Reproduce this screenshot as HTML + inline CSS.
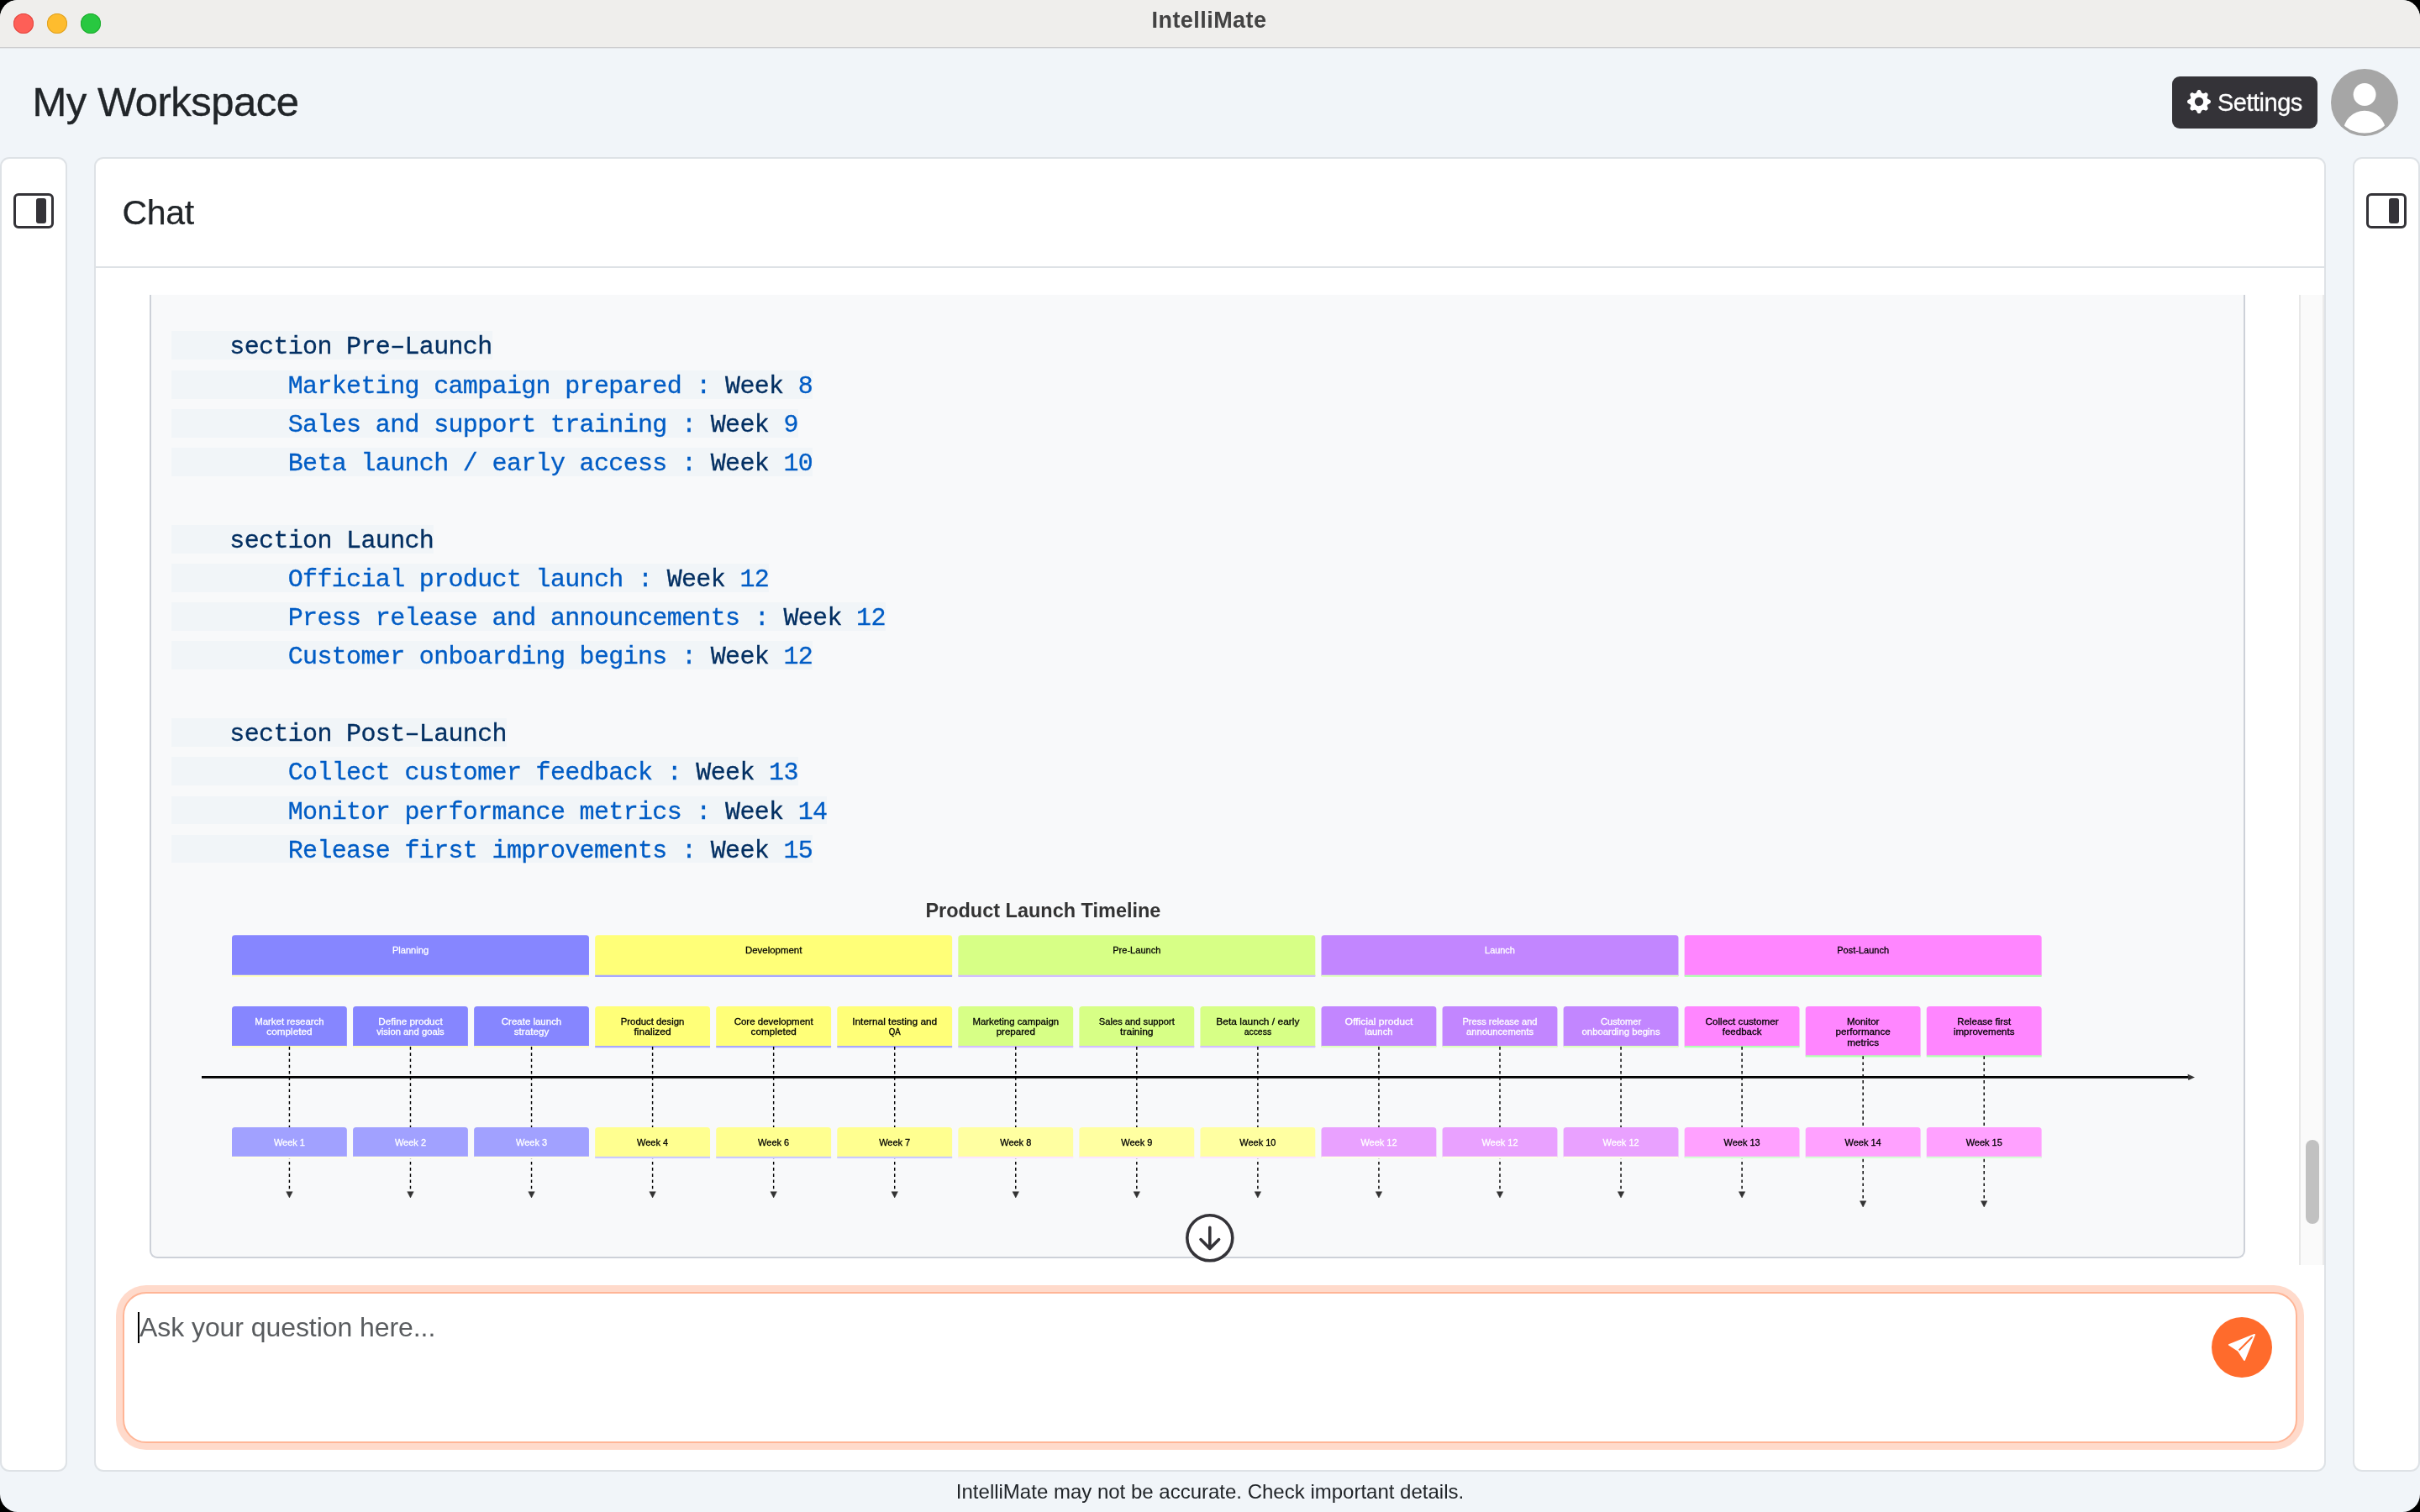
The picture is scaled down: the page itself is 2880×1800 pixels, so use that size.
<!DOCTYPE html>
<html lang="en">
<head>
<meta charset="utf-8">
<title>IntelliMate</title>
<style>
*{box-sizing:border-box;margin:0;padding:0}
html,body{width:2880px;height:1800px;background:#000;overflow:hidden}
body{font-family:"Liberation Sans",sans-serif;color:#212529;position:relative}
.win{position:absolute;left:0;top:0;width:2880px;height:1800px;border-radius:21px;overflow:hidden;background:#f1f5f9;will-change:transform}
.abs{position:absolute}
.titlebar{position:absolute;left:0;top:0;width:2880px;height:58px;background:#efeeec;border-bottom:1px solid #e4e6e9;box-shadow:inset 0 -1px 0 #cdcdcf}
.tl{position:absolute;top:16px;width:24px;height:24px;border-radius:50%}
.wtitle{position:absolute;left:0;top:8px;width:2878px;text-align:center;font-weight:bold;font-size:27px;line-height:32px;color:#434343;letter-spacing:0.45px}
.h1{position:absolute;left:38.5px;top:93px;font-size:49px;line-height:56px;color:#212529;white-space:nowrap;letter-spacing:-0.5px;-webkit-text-stroke:0.35px}
.btn{position:absolute;left:2585px;top:91px;width:173px;height:62px;border-radius:9px;background:#343338;color:#fff;font-size:28px;line-height:42px;white-space:nowrap}
.btn svg{position:absolute;left:18px;top:16px}
.btn span{position:absolute;left:54px;top:9.5px;font-size:29px;letter-spacing:-0.5px;-webkit-text-stroke:0.3px}
.panel{position:absolute;top:187px;height:1565px;background:#fff;border:2px solid #dee2e6;border-radius:11px}
.chat-h{position:absolute;left:114px;top:189px;width:2652px;height:130px;border-bottom:2px solid #dee2e6}
.chat-t{position:absolute;left:145.5px;top:227.5px;font-size:41px;line-height:50px;color:#212529;letter-spacing:-0.3px;-webkit-text-stroke:0.25px}
.codebox{position:absolute;left:178px;top:351px;width:2494px;height:1147px;background:#f8f9fa;border:2px solid #cdd1d8;border-top:none;border-radius:0 0 9px 9px}
.cl{position:absolute;left:204px;height:33.7px;line-height:39.4px;white-space:pre;font-family:"Liberation Mono",monospace;font-size:30px;letter-spacing:-0.66px;-webkit-text-stroke:0.3px}
.hl{background:#f1f5f8;display:inline-block;height:33.7px;line-height:39.4px;vertical-align:top}
.k{color:#032f62}
.b{color:#005cc5}
.t{font-family:"Liberation Sans",sans-serif;font-size:11.6px;text-anchor:middle;stroke-width:0.3px}
.tt{font-family:"Liberation Sans",sans-serif;font-size:23.5px;font-weight:bold;text-anchor:middle;fill:#333}
.track{position:absolute;left:2736px;top:351px;width:30px;height:1155px;background:#fafafa;border-left:2px solid #e8e8e8;border-right:2px solid #ebebeb}
.thumb{position:absolute;left:2744px;top:1357px;width:16px;height:100px;border-radius:8px;background:#c1c1c1}
.input{position:absolute;left:146px;top:1538px;width:2588px;height:180px;border:2px solid #ffb596;border-radius:28px;background:#fff;box-shadow:0 0 0 8px #ffdacb}
.ph{position:absolute;left:166px;top:1556px;font-size:32px;line-height:48px;color:#595c5f;white-space:nowrap;letter-spacing:-0.07px}
.caret{position:absolute;left:164px;top:1562px;width:2px;height:37px;background:#000}
.send{position:absolute;left:2632px;top:1568px;width:72px;height:72px;border-radius:50%;background:#ff6b2c}
.foot{position:absolute;left:0;top:1758px;width:2880px;text-align:center;font-size:24px;line-height:36px;color:#212529}
</style>
</head>
<body>
<div class="win">
  <div class="titlebar">
    <div class="tl" style="left:16px;background:#fe5f57;box-shadow:inset 0 0 0 1px #e2463f"></div>
    <div class="tl" style="left:56px;background:#febc2e;box-shadow:inset 0 0 0 1px #dea123"></div>
    <div class="tl" style="left:96px;background:#28c840;box-shadow:inset 0 0 0 1px #1fab2f"></div>
    <div class="wtitle">IntelliMate</div>
  </div>

  <div class="h1">My Workspace</div>

  <div class="btn">
    <svg width="28" height="28" viewBox="0 0 16 16" fill="#fff"><path d="M9.405 1.05c-.413-1.4-2.397-1.4-2.81 0l-.1.34a1.464 1.464 0 0 1-2.105.872l-.31-.17c-1.283-.698-2.686.705-1.987 1.987l.169.311c.446.82.023 1.841-.872 2.105l-.34.1c-1.4.413-1.4 2.397 0 2.81l.34.1a1.464 1.464 0 0 1 .872 2.105l-.17.31c-.698 1.283.705 2.686 1.987 1.987l.311-.169a1.464 1.464 0 0 1 2.105.872l.1.34c.413 1.4 2.397 1.4 2.81 0l.1-.34a1.464 1.464 0 0 1 2.105-.872l.31.17c1.283.698 2.686-.705 1.987-1.987l-.169-.311a1.464 1.464 0 0 1 .872-2.105l.34-.1c1.4-.413 1.4-2.397 0-2.81l-.34-.1a1.464 1.464 0 0 1-.872-2.105l.17-.31c.698-1.283-.705-2.686-1.987-1.987l-.311.169a1.464 1.464 0 0 1-2.105-.872zM8 10.93a2.929 2.929 0 1 1 0-5.86 2.929 2.929 0 0 1 0 5.858z"/></svg>
    <span>Settings</span>
  </div>

  <svg class="abs" style="left:2774px;top:82px" width="80" height="80" viewBox="0 0 80 80">
    <defs><clipPath id="avc"><circle cx="40" cy="40" r="36.6"/></clipPath></defs>
    <circle cx="40" cy="40" r="40" fill="#a6a6a6"/>
    <circle cx="40.1" cy="30.5" r="13.45" fill="#fff"/>
    <circle cx="40" cy="75.1" r="25.3" fill="#fff" clip-path="url(#avc)"/>
  </svg>

  <!-- panels -->
  <div class="panel" style="left:0px;width:80px"></div>
  <div class="panel" style="left:112px;width:2656px"></div>
  <div class="panel" style="left:2800px;width:80px"></div>

  <svg class="abs" style="left:16px;top:227px" width="48" height="48" viewBox="0 0 16 16" fill="#343338"><path d="M2 2a1 1 0 0 0-1 1v10a1 1 0 0 0 1 1h12a1 1 0 0 0 1-1V3a1 1 0 0 0-1-1zm12-1a2 2 0 0 1 2 2v10a2 2 0 0 1-2 2H2a2 2 0 0 1-2-2V3a2 2 0 0 1 2-2z"/><path d="M13 4a1 1 0 0 0-1-1h-2a1 1 0 0 0-1 1v8a1 1 0 0 0 1 1h2a1 1 0 0 0 1-1z"/></svg>
  <svg class="abs" style="left:2816px;top:227px" width="48" height="48" viewBox="0 0 16 16" fill="#343338"><path d="M2 2a1 1 0 0 0-1 1v10a1 1 0 0 0 1 1h12a1 1 0 0 0 1-1V3a1 1 0 0 0-1-1zm12-1a2 2 0 0 1 2 2v10a2 2 0 0 1-2 2H2a2 2 0 0 1-2-2V3a2 2 0 0 1 2-2z"/><path d="M13 4a1 1 0 0 0-1-1h-2a1 1 0 0 0-1 1v8a1 1 0 0 0 1 1h2a1 1 0 0 0 1-1z"/></svg>

  <div class="chat-h"></div>
  <div class="chat-t">Chat</div>

  <!-- code + diagram -->
  <div class="codebox"></div>
<div class="cl" style="top:394.00px"><span class="hl"><span class="k">    section Pre&#8211;Launch</span></span></div>
<div class="cl" style="top:440.95px"><span class="hl"><span class="b">        Marketing campaign prepared : </span><span class="k">Week</span><span class="b"> 8</span></span></div>
<div class="cl" style="top:487.00px"><span class="hl"><span class="b">        Sales and support training : </span><span class="k">Week</span><span class="b"> 9</span></span></div>
<div class="cl" style="top:533.05px"><span class="hl"><span class="b">        Beta launch / early access : </span><span class="k">Week</span><span class="b"> 10</span></span></div>
<div class="cl" style="top:625.15px"><span class="hl"><span class="k">    section Launch</span></span></div>
<div class="cl" style="top:671.20px"><span class="hl"><span class="b">        Official product launch : </span><span class="k">Week</span><span class="b"> 12</span></span></div>
<div class="cl" style="top:717.25px"><span class="hl"><span class="b">        Press release and announcements : </span><span class="k">Week</span><span class="b"> 12</span></span></div>
<div class="cl" style="top:763.30px"><span class="hl"><span class="b">        Customer onboarding begins : </span><span class="k">Week</span><span class="b"> 12</span></span></div>
<div class="cl" style="top:855.40px"><span class="hl"><span class="k">    section Post&#8211;Launch</span></span></div>
<div class="cl" style="top:901.45px"><span class="hl"><span class="b">        Collect customer feedback : </span><span class="k">Week</span><span class="b"> 13</span></span></div>
<div class="cl" style="top:947.50px"><span class="hl"><span class="b">        Monitor performance metrics : </span><span class="k">Week</span><span class="b"> 14</span></span></div>
<div class="cl" style="top:993.55px"><span class="hl"><span class="b">        Release first improvements : </span><span class="k">Week</span><span class="b"> 15</span></span></div>
  <svg class="abs" style="left:0;top:0" width="2880" height="1800" viewBox="0 0 2880 1800">
<path d="M276.00 1161.90 V1116.80 Q276.00 1113.20 279.60 1113.20 H697.37 Q700.97 1113.20 700.97 1116.80 V1161.90 H276.00 Z" fill="#8686ff"/><line x1="276.00" y1="1161.90" x2="700.97" y2="1161.90" stroke="#ffffc2" stroke-width="2.16"/>
<text x="488.49" y="1135.00" fill="#ffffff" stroke="#ffffff" class="t" textLength="43.21" lengthAdjust="spacingAndGlyphs">Planning</text>
<path d="M708.17 1161.90 V1116.80 Q708.17 1113.20 711.77 1113.20 H1129.54 Q1133.14 1113.20 1133.14 1116.80 V1161.90 H708.17 Z" fill="#ffff78"/><line x1="708.17" y1="1161.90" x2="1133.14" y2="1161.90" stroke="#a8a8ff" stroke-width="2.16"/>
<text x="920.66" y="1135.00" fill="#000000" stroke="#000000" class="t" textLength="67.36" lengthAdjust="spacingAndGlyphs">Development</text>
<path d="M1140.34 1161.90 V1116.80 Q1140.34 1113.20 1143.94 1113.20 H1561.71 Q1565.31 1113.20 1565.31 1116.80 V1161.90 H1140.34 Z" fill="#d7ff86"/><line x1="1140.34" y1="1161.90" x2="1565.31" y2="1161.90" stroke="#d2bfff" stroke-width="2.16"/>
<text x="1352.83" y="1135.00" fill="#000000" stroke="#000000" class="t" textLength="57.26" lengthAdjust="spacingAndGlyphs">Pre-Launch</text>
<path d="M1572.51 1161.90 V1116.80 Q1572.51 1113.20 1576.11 1113.20 H1993.88 Q1997.48 1113.20 1997.48 1116.80 V1161.90 H1572.51 Z" fill="#c286ff"/><line x1="1572.51" y1="1161.90" x2="1997.48" y2="1161.90" stroke="#e0ffc2" stroke-width="2.16"/>
<text x="1785.00" y="1135.00" fill="#ffffff" stroke="#ffffff" class="t" textLength="35.85" lengthAdjust="spacingAndGlyphs">Launch</text>
<path d="M2004.68 1161.90 V1116.80 Q2004.68 1113.20 2008.28 1113.20 H2426.05 Q2429.65 1113.20 2429.65 1116.80 V1161.90 H2004.68 Z" fill="#ff86ff"/><line x1="2004.68" y1="1161.90" x2="2429.65" y2="1161.90" stroke="#b3ffb3" stroke-width="2.16"/>
<text x="2217.17" y="1135.00" fill="#000000" stroke="#000000" class="t" textLength="61.92" lengthAdjust="spacingAndGlyphs">Post-Launch</text>
<path d="M276.00 1246.10 V1201.60 Q276.00 1198.00 279.60 1198.00 H409.25 Q412.85 1198.00 412.85 1201.60 V1246.10 H276.00 Z" fill="#8686ff"/><line x1="276.00" y1="1246.10" x2="412.85" y2="1246.10" stroke="#ffffc2" stroke-width="2.16"/>
<text x="344.43" y="1220.00" fill="#ffffff" stroke="#ffffff" class="t" textLength="82.44" lengthAdjust="spacingAndGlyphs">Market research</text>
<text x="344.43" y="1232.00" fill="#ffffff" stroke="#ffffff" class="t" textLength="54.20" lengthAdjust="spacingAndGlyphs">completed</text>
<line x1="344.43" y1="1246.10" x2="344.43" y2="1419.60" stroke="#000" stroke-width="1.44" stroke-dasharray="3.6 3.6"/>
<path d="M340.73 1418.70 L348.12 1418.70 L344.43 1425.90 Z" fill="#333" stroke="#333" stroke-width="0.5" stroke-linejoin="round"/>
<path d="M276.00 1377.90 V1345.50 Q276.00 1341.90 279.60 1341.90 H409.25 Q412.85 1341.90 412.85 1345.50 V1377.90 H276.00 Z" fill="#a1a1ff"/><line x1="276.00" y1="1377.90" x2="412.85" y2="1377.90" stroke="#ffffe9" stroke-width="2.16"/>
<text x="344.43" y="1364.00" fill="#ffffff" stroke="#ffffff" class="t" textLength="37.08" lengthAdjust="spacingAndGlyphs">Week 1</text>
<path d="M420.06 1246.10 V1201.60 Q420.06 1198.00 423.66 1198.00 H553.31 Q556.91 1198.00 556.91 1201.60 V1246.10 H420.06 Z" fill="#8686ff"/><line x1="420.06" y1="1246.10" x2="556.91" y2="1246.10" stroke="#ffffc2" stroke-width="2.16"/>
<text x="488.48" y="1220.00" fill="#ffffff" stroke="#ffffff" class="t" textLength="76.38" lengthAdjust="spacingAndGlyphs">Define product</text>
<text x="488.48" y="1232.00" fill="#ffffff" stroke="#ffffff" class="t" textLength="80.52" lengthAdjust="spacingAndGlyphs">vision and goals</text>
<line x1="488.48" y1="1246.10" x2="488.48" y2="1419.60" stroke="#000" stroke-width="1.44" stroke-dasharray="3.6 3.6"/>
<path d="M484.78 1418.70 L492.18 1418.70 L488.48 1425.90 Z" fill="#333" stroke="#333" stroke-width="0.5" stroke-linejoin="round"/>
<path d="M420.06 1377.90 V1345.50 Q420.06 1341.90 423.66 1341.90 H553.31 Q556.91 1341.90 556.91 1345.50 V1377.90 H420.06 Z" fill="#a1a1ff"/><line x1="420.06" y1="1377.90" x2="556.91" y2="1377.90" stroke="#ffffe9" stroke-width="2.16"/>
<text x="488.48" y="1364.00" fill="#ffffff" stroke="#ffffff" class="t" textLength="37.08" lengthAdjust="spacingAndGlyphs">Week 2</text>
<path d="M564.11 1246.10 V1201.60 Q564.11 1198.00 567.71 1198.00 H697.36 Q700.96 1198.00 700.96 1201.60 V1246.10 H564.11 Z" fill="#8686ff"/><line x1="564.11" y1="1246.10" x2="700.96" y2="1246.10" stroke="#ffffc2" stroke-width="2.16"/>
<text x="632.54" y="1220.00" fill="#ffffff" stroke="#ffffff" class="t" textLength="71.42" lengthAdjust="spacingAndGlyphs">Create launch</text>
<text x="632.54" y="1232.00" fill="#ffffff" stroke="#ffffff" class="t" textLength="41.46" lengthAdjust="spacingAndGlyphs">strategy</text>
<line x1="632.54" y1="1246.10" x2="632.54" y2="1419.60" stroke="#000" stroke-width="1.44" stroke-dasharray="3.6 3.6"/>
<path d="M628.84 1418.70 L636.24 1418.70 L632.54 1425.90 Z" fill="#333" stroke="#333" stroke-width="0.5" stroke-linejoin="round"/>
<path d="M564.11 1377.90 V1345.50 Q564.11 1341.90 567.71 1341.90 H697.36 Q700.96 1341.90 700.96 1345.50 V1377.90 H564.11 Z" fill="#a1a1ff"/><line x1="564.11" y1="1377.90" x2="700.96" y2="1377.90" stroke="#ffffe9" stroke-width="2.16"/>
<text x="632.54" y="1364.00" fill="#ffffff" stroke="#ffffff" class="t" textLength="37.08" lengthAdjust="spacingAndGlyphs">Week 3</text>
<path d="M708.17 1246.10 V1201.60 Q708.17 1198.00 711.77 1198.00 H841.42 Q845.02 1198.00 845.02 1201.60 V1246.10 H708.17 Z" fill="#ffff78"/><line x1="708.17" y1="1246.10" x2="845.02" y2="1246.10" stroke="#a8a8ff" stroke-width="2.16"/>
<text x="776.60" y="1220.00" fill="#000000" stroke="#000000" class="t" textLength="75.65" lengthAdjust="spacingAndGlyphs">Product design</text>
<text x="776.60" y="1232.00" fill="#000000" stroke="#000000" class="t" textLength="44.13" lengthAdjust="spacingAndGlyphs">finalized</text>
<line x1="776.60" y1="1246.10" x2="776.60" y2="1419.60" stroke="#000" stroke-width="1.44" stroke-dasharray="3.6 3.6"/>
<path d="M772.90 1418.70 L780.30 1418.70 L776.60 1425.90 Z" fill="#333" stroke="#333" stroke-width="0.5" stroke-linejoin="round"/>
<path d="M708.17 1377.90 V1345.50 Q708.17 1341.90 711.77 1341.90 H841.42 Q845.02 1341.90 845.02 1345.50 V1377.90 H708.17 Z" fill="#ffff90"/><line x1="708.17" y1="1377.90" x2="845.02" y2="1377.90" stroke="#cacaff" stroke-width="2.16"/>
<text x="776.60" y="1364.00" fill="#000000" stroke="#000000" class="t" textLength="37.08" lengthAdjust="spacingAndGlyphs">Week 4</text>
<path d="M852.23 1246.10 V1201.60 Q852.23 1198.00 855.83 1198.00 H985.48 Q989.08 1198.00 989.08 1201.60 V1246.10 H852.23 Z" fill="#ffff78"/><line x1="852.23" y1="1246.10" x2="989.08" y2="1246.10" stroke="#a8a8ff" stroke-width="2.16"/>
<text x="920.65" y="1220.00" fill="#000000" stroke="#000000" class="t" textLength="94.01" lengthAdjust="spacingAndGlyphs">Core development</text>
<text x="920.65" y="1232.00" fill="#000000" stroke="#000000" class="t" textLength="54.20" lengthAdjust="spacingAndGlyphs">completed</text>
<line x1="920.65" y1="1246.10" x2="920.65" y2="1419.60" stroke="#000" stroke-width="1.44" stroke-dasharray="3.6 3.6"/>
<path d="M916.95 1418.70 L924.35 1418.70 L920.65 1425.90 Z" fill="#333" stroke="#333" stroke-width="0.5" stroke-linejoin="round"/>
<path d="M852.23 1377.90 V1345.50 Q852.23 1341.90 855.83 1341.90 H985.48 Q989.08 1341.90 989.08 1345.50 V1377.90 H852.23 Z" fill="#ffff90"/><line x1="852.23" y1="1377.90" x2="989.08" y2="1377.90" stroke="#cacaff" stroke-width="2.16"/>
<text x="920.65" y="1364.00" fill="#000000" stroke="#000000" class="t" textLength="37.08" lengthAdjust="spacingAndGlyphs">Week 6</text>
<path d="M996.28 1246.10 V1201.60 Q996.28 1198.00 999.88 1198.00 H1129.54 Q1133.13 1198.00 1133.13 1201.60 V1246.10 H996.28 Z" fill="#ffff78"/><line x1="996.28" y1="1246.10" x2="1133.13" y2="1246.10" stroke="#a8a8ff" stroke-width="2.16"/>
<text x="1064.71" y="1220.00" fill="#000000" stroke="#000000" class="t" textLength="101.06" lengthAdjust="spacingAndGlyphs">Internal testing and</text>
<text x="1064.71" y="1232.00" fill="#000000" stroke="#000000" class="t" textLength="13.98" lengthAdjust="spacingAndGlyphs">QA</text>
<line x1="1064.71" y1="1246.10" x2="1064.71" y2="1419.60" stroke="#000" stroke-width="1.44" stroke-dasharray="3.6 3.6"/>
<path d="M1061.01 1418.70 L1068.41 1418.70 L1064.71 1425.90 Z" fill="#333" stroke="#333" stroke-width="0.5" stroke-linejoin="round"/>
<path d="M996.28 1377.90 V1345.50 Q996.28 1341.90 999.88 1341.90 H1129.54 Q1133.13 1341.90 1133.13 1345.50 V1377.90 H996.28 Z" fill="#ffff90"/><line x1="996.28" y1="1377.90" x2="1133.13" y2="1377.90" stroke="#cacaff" stroke-width="2.16"/>
<text x="1064.71" y="1364.00" fill="#000000" stroke="#000000" class="t" textLength="37.08" lengthAdjust="spacingAndGlyphs">Week 7</text>
<path d="M1140.34 1246.10 V1201.60 Q1140.34 1198.00 1143.94 1198.00 H1273.59 Q1277.19 1198.00 1277.19 1201.60 V1246.10 H1140.34 Z" fill="#d7ff86"/><line x1="1140.34" y1="1246.10" x2="1277.19" y2="1246.10" stroke="#d2bfff" stroke-width="2.16"/>
<text x="1208.77" y="1220.00" fill="#000000" stroke="#000000" class="t" textLength="102.70" lengthAdjust="spacingAndGlyphs">Marketing campaign</text>
<text x="1208.77" y="1232.00" fill="#000000" stroke="#000000" class="t" textLength="46.22" lengthAdjust="spacingAndGlyphs">prepared</text>
<line x1="1208.77" y1="1246.10" x2="1208.77" y2="1419.60" stroke="#000" stroke-width="1.44" stroke-dasharray="3.6 3.6"/>
<path d="M1205.07 1418.70 L1212.47 1418.70 L1208.77 1425.90 Z" fill="#333" stroke="#333" stroke-width="0.5" stroke-linejoin="round"/>
<path d="M1140.34 1377.90 V1345.50 Q1140.34 1341.90 1143.94 1341.90 H1273.59 Q1277.19 1341.90 1277.19 1345.50 V1377.90 H1140.34 Z" fill="#ffffa1"/><line x1="1140.34" y1="1377.90" x2="1277.19" y2="1377.90" stroke="#fce5ff" stroke-width="2.16"/>
<text x="1208.77" y="1364.00" fill="#000000" stroke="#000000" class="t" textLength="37.08" lengthAdjust="spacingAndGlyphs">Week 8</text>
<path d="M1284.40 1246.10 V1201.60 Q1284.40 1198.00 1288.00 1198.00 H1417.65 Q1421.25 1198.00 1421.25 1201.60 V1246.10 H1284.40 Z" fill="#d7ff86"/><line x1="1284.40" y1="1246.10" x2="1421.25" y2="1246.10" stroke="#d2bfff" stroke-width="2.16"/>
<text x="1352.82" y="1220.00" fill="#000000" stroke="#000000" class="t" textLength="90.04" lengthAdjust="spacingAndGlyphs">Sales and support</text>
<text x="1352.82" y="1232.00" fill="#000000" stroke="#000000" class="t" textLength="39.42" lengthAdjust="spacingAndGlyphs">training</text>
<line x1="1352.82" y1="1246.10" x2="1352.82" y2="1419.60" stroke="#000" stroke-width="1.44" stroke-dasharray="3.6 3.6"/>
<path d="M1349.12 1418.70 L1356.52 1418.70 L1352.82 1425.90 Z" fill="#333" stroke="#333" stroke-width="0.5" stroke-linejoin="round"/>
<path d="M1284.40 1377.90 V1345.50 Q1284.40 1341.90 1288.00 1341.90 H1417.65 Q1421.25 1341.90 1421.25 1345.50 V1377.90 H1284.40 Z" fill="#ffffa1"/><line x1="1284.40" y1="1377.90" x2="1421.25" y2="1377.90" stroke="#fce5ff" stroke-width="2.16"/>
<text x="1352.82" y="1364.00" fill="#000000" stroke="#000000" class="t" textLength="37.08" lengthAdjust="spacingAndGlyphs">Week 9</text>
<path d="M1428.46 1246.10 V1201.60 Q1428.46 1198.00 1432.06 1198.00 H1561.71 Q1565.31 1198.00 1565.31 1201.60 V1246.10 H1428.46 Z" fill="#d7ff86"/><line x1="1428.46" y1="1246.10" x2="1565.31" y2="1246.10" stroke="#d2bfff" stroke-width="2.16"/>
<text x="1496.88" y="1220.00" fill="#000000" stroke="#000000" class="t" textLength="99.15" lengthAdjust="spacingAndGlyphs">Beta launch / early</text>
<text x="1496.88" y="1232.00" fill="#000000" stroke="#000000" class="t" textLength="32.46" lengthAdjust="spacingAndGlyphs">access</text>
<line x1="1496.88" y1="1246.10" x2="1496.88" y2="1419.60" stroke="#000" stroke-width="1.44" stroke-dasharray="3.6 3.6"/>
<path d="M1493.18 1418.70 L1500.58 1418.70 L1496.88 1425.90 Z" fill="#333" stroke="#333" stroke-width="0.5" stroke-linejoin="round"/>
<path d="M1428.46 1377.90 V1345.50 Q1428.46 1341.90 1432.06 1341.90 H1561.71 Q1565.31 1341.90 1565.31 1345.50 V1377.90 H1428.46 Z" fill="#ffffa1"/><line x1="1428.46" y1="1377.90" x2="1565.31" y2="1377.90" stroke="#fce5ff" stroke-width="2.16"/>
<text x="1496.88" y="1364.00" fill="#000000" stroke="#000000" class="t" textLength="43.12" lengthAdjust="spacingAndGlyphs">Week 10</text>
<path d="M1572.51 1246.10 V1201.60 Q1572.51 1198.00 1576.11 1198.00 H1705.76 Q1709.36 1198.00 1709.36 1201.60 V1246.10 H1572.51 Z" fill="#c286ff"/><line x1="1572.51" y1="1246.10" x2="1709.36" y2="1246.10" stroke="#e0ffc2" stroke-width="2.16"/>
<text x="1640.94" y="1220.00" fill="#ffffff" stroke="#ffffff" class="t" textLength="80.93" lengthAdjust="spacingAndGlyphs">Official product</text>
<text x="1640.94" y="1232.00" fill="#ffffff" stroke="#ffffff" class="t" textLength="33.42" lengthAdjust="spacingAndGlyphs">launch</text>
<line x1="1640.94" y1="1246.10" x2="1640.94" y2="1419.60" stroke="#000" stroke-width="1.44" stroke-dasharray="3.6 3.6"/>
<path d="M1637.24 1418.70 L1644.64 1418.70 L1640.94 1425.90 Z" fill="#333" stroke="#333" stroke-width="0.5" stroke-linejoin="round"/>
<path d="M1572.51 1377.90 V1345.50 Q1572.51 1341.90 1576.11 1341.90 H1705.76 Q1709.36 1341.90 1709.36 1345.50 V1377.90 H1572.51 Z" fill="#e9a1ff"/><line x1="1572.51" y1="1377.90" x2="1709.36" y2="1377.90" stroke="#ffffe9" stroke-width="2.16"/>
<text x="1640.94" y="1364.00" fill="#ffffff" stroke="#ffffff" class="t" textLength="43.12" lengthAdjust="spacingAndGlyphs">Week 12</text>
<path d="M1716.57 1246.10 V1201.60 Q1716.57 1198.00 1720.17 1198.00 H1849.82 Q1853.42 1198.00 1853.42 1201.60 V1246.10 H1716.57 Z" fill="#c286ff"/><line x1="1716.57" y1="1246.10" x2="1853.42" y2="1246.10" stroke="#e0ffc2" stroke-width="2.16"/>
<text x="1784.99" y="1220.00" fill="#ffffff" stroke="#ffffff" class="t" textLength="89.04" lengthAdjust="spacingAndGlyphs">Press release and</text>
<text x="1784.99" y="1232.00" fill="#ffffff" stroke="#ffffff" class="t" textLength="80.13" lengthAdjust="spacingAndGlyphs">announcements</text>
<line x1="1784.99" y1="1246.10" x2="1784.99" y2="1419.60" stroke="#000" stroke-width="1.44" stroke-dasharray="3.6 3.6"/>
<path d="M1781.29 1418.70 L1788.69 1418.70 L1784.99 1425.90 Z" fill="#333" stroke="#333" stroke-width="0.5" stroke-linejoin="round"/>
<path d="M1716.57 1377.90 V1345.50 Q1716.57 1341.90 1720.17 1341.90 H1849.82 Q1853.42 1341.90 1853.42 1345.50 V1377.90 H1716.57 Z" fill="#e9a1ff"/><line x1="1716.57" y1="1377.90" x2="1853.42" y2="1377.90" stroke="#ffffe9" stroke-width="2.16"/>
<text x="1784.99" y="1364.00" fill="#ffffff" stroke="#ffffff" class="t" textLength="43.12" lengthAdjust="spacingAndGlyphs">Week 12</text>
<path d="M1860.63 1246.10 V1201.60 Q1860.63 1198.00 1864.23 1198.00 H1993.88 Q1997.48 1198.00 1997.48 1201.60 V1246.10 H1860.63 Z" fill="#c286ff"/><line x1="1860.63" y1="1246.10" x2="1997.48" y2="1246.10" stroke="#e0ffc2" stroke-width="2.16"/>
<text x="1929.05" y="1220.00" fill="#ffffff" stroke="#ffffff" class="t" textLength="48.31" lengthAdjust="spacingAndGlyphs">Customer</text>
<text x="1929.05" y="1232.00" fill="#ffffff" stroke="#ffffff" class="t" textLength="92.97" lengthAdjust="spacingAndGlyphs">onboarding begins</text>
<line x1="1929.05" y1="1246.10" x2="1929.05" y2="1419.60" stroke="#000" stroke-width="1.44" stroke-dasharray="3.6 3.6"/>
<path d="M1925.35 1418.70 L1932.75 1418.70 L1929.05 1425.90 Z" fill="#333" stroke="#333" stroke-width="0.5" stroke-linejoin="round"/>
<path d="M1860.63 1377.90 V1345.50 Q1860.63 1341.90 1864.23 1341.90 H1993.88 Q1997.48 1341.90 1997.48 1345.50 V1377.90 H1860.63 Z" fill="#e9a1ff"/><line x1="1860.63" y1="1377.90" x2="1997.48" y2="1377.90" stroke="#ffffe9" stroke-width="2.16"/>
<text x="1929.05" y="1364.00" fill="#ffffff" stroke="#ffffff" class="t" textLength="43.12" lengthAdjust="spacingAndGlyphs">Week 12</text>
<path d="M2004.68 1246.10 V1201.60 Q2004.68 1198.00 2008.28 1198.00 H2137.93 Q2141.53 1198.00 2141.53 1201.60 V1246.10 H2004.68 Z" fill="#ff86ff"/><line x1="2004.68" y1="1246.10" x2="2141.53" y2="1246.10" stroke="#b3ffb3" stroke-width="2.16"/>
<text x="2073.11" y="1220.00" fill="#000000" stroke="#000000" class="t" textLength="87.01" lengthAdjust="spacingAndGlyphs">Collect customer</text>
<text x="2073.11" y="1232.00" fill="#000000" stroke="#000000" class="t" textLength="46.61" lengthAdjust="spacingAndGlyphs">feedback</text>
<line x1="2073.11" y1="1246.10" x2="2073.11" y2="1419.60" stroke="#000" stroke-width="1.44" stroke-dasharray="3.6 3.6"/>
<path d="M2069.41 1418.70 L2076.81 1418.70 L2073.11 1425.90 Z" fill="#333" stroke="#333" stroke-width="0.5" stroke-linejoin="round"/>
<path d="M2004.68 1377.90 V1345.50 Q2004.68 1341.90 2008.28 1341.90 H2137.93 Q2141.53 1341.90 2141.53 1345.50 V1377.90 H2004.68 Z" fill="#ffa1ff"/><line x1="2004.68" y1="1377.90" x2="2141.53" y2="1377.90" stroke="#d7ffd7" stroke-width="2.16"/>
<text x="2073.11" y="1364.00" fill="#000000" stroke="#000000" class="t" textLength="43.12" lengthAdjust="spacingAndGlyphs">Week 13</text>
<path d="M2148.74 1257.30 V1201.60 Q2148.74 1198.00 2152.34 1198.00 H2281.99 Q2285.59 1198.00 2285.59 1201.60 V1257.30 H2148.74 Z" fill="#ff86ff"/><line x1="2148.74" y1="1257.30" x2="2285.59" y2="1257.30" stroke="#b3ffb3" stroke-width="2.16"/>
<text x="2217.17" y="1220.00" fill="#000000" stroke="#000000" class="t" textLength="38.56" lengthAdjust="spacingAndGlyphs">Monitor</text>
<text x="2217.17" y="1232.00" fill="#000000" stroke="#000000" class="t" textLength="65.39" lengthAdjust="spacingAndGlyphs">performance</text>
<text x="2217.17" y="1245.00" fill="#000000" stroke="#000000" class="t" textLength="37.93" lengthAdjust="spacingAndGlyphs">metrics</text>
<line x1="2217.17" y1="1257.30" x2="2217.17" y2="1430.70" stroke="#000" stroke-width="1.44" stroke-dasharray="3.6 3.6"/>
<path d="M2213.47 1429.80 L2220.87 1429.80 L2217.17 1437.00 Z" fill="#333" stroke="#333" stroke-width="0.5" stroke-linejoin="round"/>
<path d="M2148.74 1377.90 V1345.50 Q2148.74 1341.90 2152.34 1341.90 H2281.99 Q2285.59 1341.90 2285.59 1345.50 V1377.90 H2148.74 Z" fill="#ffa1ff"/><line x1="2148.74" y1="1377.90" x2="2285.59" y2="1377.90" stroke="#d7ffd7" stroke-width="2.16"/>
<text x="2217.17" y="1364.00" fill="#000000" stroke="#000000" class="t" textLength="43.12" lengthAdjust="spacingAndGlyphs">Week 14</text>
<path d="M2292.80 1257.30 V1201.60 Q2292.80 1198.00 2296.40 1198.00 H2426.05 Q2429.65 1198.00 2429.65 1201.60 V1257.30 H2292.80 Z" fill="#ff86ff"/><line x1="2292.80" y1="1257.30" x2="2429.65" y2="1257.30" stroke="#b3ffb3" stroke-width="2.16"/>
<text x="2361.22" y="1220.00" fill="#000000" stroke="#000000" class="t" textLength="63.77" lengthAdjust="spacingAndGlyphs">Release first</text>
<text x="2361.22" y="1232.00" fill="#000000" stroke="#000000" class="t" textLength="72.61" lengthAdjust="spacingAndGlyphs">improvements</text>
<line x1="2361.22" y1="1257.30" x2="2361.22" y2="1430.70" stroke="#000" stroke-width="1.44" stroke-dasharray="3.6 3.6"/>
<path d="M2357.52 1429.80 L2364.92 1429.80 L2361.22 1437.00 Z" fill="#333" stroke="#333" stroke-width="0.5" stroke-linejoin="round"/>
<path d="M2292.80 1377.90 V1345.50 Q2292.80 1341.90 2296.40 1341.90 H2426.05 Q2429.65 1341.90 2429.65 1345.50 V1377.90 H2292.80 Z" fill="#ffa1ff"/><line x1="2292.80" y1="1377.90" x2="2429.65" y2="1377.90" stroke="#d7ffd7" stroke-width="2.16"/>
<text x="2361.22" y="1364.00" fill="#000000" stroke="#000000" class="t" textLength="43.12" lengthAdjust="spacingAndGlyphs">Week 15</text>
<line x1="240" y1="1282.40" x2="2606" y2="1282.40" stroke="#000" stroke-width="2.9"/>
<path d="M2603.6 1278.70 L2612 1282.40 L2604.3 1286.10 Z" fill="#333"/>
<text x="1241.4" y="1092.2" class="tt" textLength="280" lengthAdjust="spacingAndGlyphs">Product Launch Timeline</text>
  </svg>

  <div class="track"></div>
  <div class="thumb"></div>

  <!-- scroll-to-bottom button -->
  <svg class="abs" style="left:1411.2px;top:1445.4px;overflow:visible" width="57.6" height="57.6" viewBox="0 0 16 16">
    <circle cx="8" cy="8" r="7.6" fill="#fff"/>
    <path fill="#343338" fill-rule="evenodd" d="M1 8a7 7 0 1 0 14 0A7 7 0 0 0 1 8m15 0A8 8 0 1 1 0 8a8 8 0 0 1 16 0M8.5 4.5a.5.5 0 0 0-1 0v5.793L5.354 8.146a.5.5 0 1 0-.708.708l3 3a.5.5 0 0 0 .708 0l3-3a.5.5 0 0 0-.708-.708L8.5 10.293z"/>
  </svg>

  <!-- input -->
  <div class="input"></div>
  <div class="ph">Ask your question here...</div>
  <div class="caret"></div>
  <div class="send">
    <svg class="abs" style="left:20px;top:20px" width="32" height="32" viewBox="0 0 16 16" fill="#fff"><path d="M15.964.686a.5.5 0 0 0-.65-.65L.767 5.855H.766l-.452.18a.5.5 0 0 0-.082.887l.41.26.001.002 4.995 3.178 3.178 4.995.002.002.26.41a.5.5 0 0 0 .886-.083zm-1.833 1.89L6.637 10.07l-.215-.338a.5.5 0 0 0-.154-.154l-.338-.215 7.494-7.494 1.178-.471z"/></svg>
  </div>

  <div class="foot">IntelliMate may not be accurate. Check important details.</div>
</div>
</body>
</html>
